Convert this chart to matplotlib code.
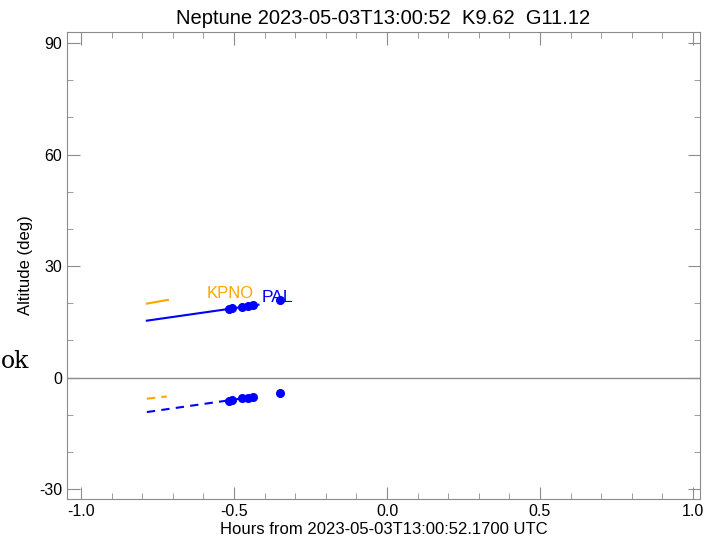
import matplotlib
matplotlib.use("Agg")
import matplotlib.pyplot as plt
from matplotlib.ticker import MultipleLocator, FormatStrFormatter

title = "Neptune 2023-05-03T13:00:52  K9.62  G11.12"
xlabel = "Hours from 2023-05-03T13:00:52.1700 UTC"
ylabel = "Altitude (deg)"

# KPNO (orange)
kpno_x = [-0.785, -0.716]
kpno_alt = [19.9, 20.9]
kpno_x2 = [-0.785, -0.72]
kpno_alt2 = [-5.7, -5.1]

# PAL (blue)
pal_x = [-0.785, -0.42]
pal_alt = [15.3, 19.6]
pal_x2 = [-0.785, -0.42]
pal_alt2 = [-9.3, -5.0]

pal_pts_x = [-0.516, -0.506, -0.473, -0.453, -0.437, -0.349]
pal_pts_alt = [18.5, 18.6, 19.0, 19.2, 19.4, 20.8]
pal_pts_alt2 = [-6.2, -6.1, -5.6, -5.4, -5.2, -4.2]

plt.rcParams['font.family'] = ['Liberation Sans', 'DejaVu Sans']
plt.rcParams['axes.unicode_minus'] = False
fig = plt.figure(figsize=(7.08, 5.44), dpi=100)
ax = fig.add_axes([67/708, 45/544, 633/708, 467/544])

grey = '#8c8c8c'
ax.axhline(0, color=grey, lw=1)

ax.plot(kpno_x, kpno_alt, color='orange', lw=1.5)
ax.plot(kpno_x2, kpno_alt2, color='orange', lw=1.5, ls=(0, (4, 3)))
ax.plot(pal_x, pal_alt, color='blue', lw=1.5)
ax.plot(pal_x2, pal_alt2, color='blue', lw=1.5, ls=(0, (4, 3)))
ax.plot(pal_pts_x, pal_pts_alt, 'o', color='blue', ms=5.5)
ax.plot(pal_pts_x, pal_pts_alt2, 'o', color='blue', ms=5.5)

ax.text(-0.59, 22.5, "KPNO", color='orange', fontsize=12, ha='left', va='center')
ax.text(-0.41, 21.6, "PAL", color='blue', fontsize=12.5, ha='left', va='center')

ax.set_xlim(-1.046, 1.023)
ax.set_ylim(-32.7, 93.0)
ax.xaxis.set_major_locator(MultipleLocator(0.5))
ax.xaxis.set_minor_locator(MultipleLocator(0.1))
ax.yaxis.set_major_locator(MultipleLocator(30))
ax.yaxis.set_minor_locator(MultipleLocator(10))
ax.xaxis.set_major_formatter(FormatStrFormatter('%.1f'))
ax.tick_params(which='both', direction='in', top=True, right=True, color=grey, labelsize=11.5)
ax.tick_params(which='major', length=9)
ax.tick_params(which='minor', length=4.5)
for s in ax.spines.values():
    s.set_color(grey)

ax.set_title(title, fontsize=14.5, pad=6)
ax.set_xlabel(xlabel, fontsize=12, labelpad=2)
ax.set_ylabel(ylabel, fontsize=12, labelpad=4)

fig.text(0.001, (544-368)/544, "ok", family='DejaVu Serif', fontsize=17, ha='left', va='baseline')

fig.savefig("out.png", dpi=100)
